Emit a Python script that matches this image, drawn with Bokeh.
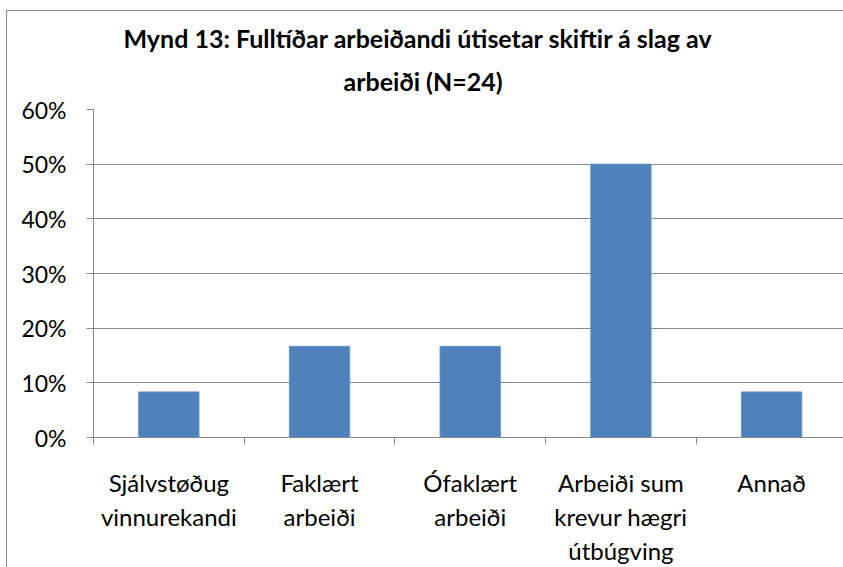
from bokeh.plotting import figure
from bokeh.models import FixedTicker, NumeralTickFormatter, Range1d, Title
from bokeh.embed import file_html
from bokeh.resources import INLINE

# ---- data ----
categories = ["Sjálvstøðug\nvinnurekandi", "Faklært\narbeiði", "Ófaklært\narbeiði",
              "Arbeiði sum\nkrevur hægri\nútbúgving", "Annað"]
values = [0.0833, 0.1667, 0.1667, 0.5, 0.0833]
y_ticks = [0.0, 0.1, 0.2, 0.3, 0.4, 0.5, 0.6]
title_lines = ["Mynd 13: Fulltíðar arbeiðandi útisetar skiftir á slag av", "arbeiði (N=24)"]

FONT = "Lato"
GRAY = "#898989"

centers = [i + 0.5 for i in range(len(categories))]
bounds = [float(i) for i in range(len(categories) + 1)]

chart_border = ("linear-gradient(#8a8a8a,#8a8a8a) 6px 10px / 1px 600px no-repeat, "
                "linear-gradient(#8a8a8a,#8a8a8a) 6px 10px / 900px 1px no-repeat, white")

p = figure(width=843, height=567, output_backend="svg", toolbar_location=None,
           x_range=Range1d(0, 4.977), y_range=Range1d(0, 0.6),
           min_border_left=93, min_border_right=0, min_border_top=109, min_border_bottom=130,
           styles={"background": chart_border})
p.outline_line_color = None
p.background_fill_color = "white"
p.border_fill_color = None

p.vbar(x=centers, top=values, width=0.4, fill_color="#4F81BD", line_color="#6690c6", line_width=1)

# x axis
xa = p.xaxis[0]
xa.ticker = FixedTicker(ticks=centers, minor_ticks=bounds)
xa.major_label_overrides = {c: lab for c, lab in zip(centers, categories)}
xa.major_tick_line_color = None
xa.minor_tick_line_color = GRAY
xa.minor_tick_out = 7
xa.minor_tick_in = 0
xa.axis_line_color = GRAY
xa.major_label_text_font = FONT
xa.major_label_text_font_size = "24px"
xa.major_label_text_color = "black"
xa.major_label_text_line_height = 1.18
xa.major_label_standoff = 23
xa.major_label_orientation = "horizontal"

# y axis
ya = p.yaxis[0]
ya.ticker = FixedTicker(ticks=y_ticks)
ya.formatter = NumeralTickFormatter(format="0%")
ya.minor_tick_line_color = None
ya.major_tick_line_color = GRAY
ya.major_tick_out = 7
ya.major_tick_in = 0
ya.axis_line_color = GRAY
ya.major_label_text_font = FONT
ya.major_label_text_font_size = "23px"
ya.major_label_text_color = "black"
ya.major_label_standoff = 20

p.xgrid.grid_line_color = None
p.ygrid.ticker = FixedTicker(ticks=y_ticks)
p.ygrid.grid_line_color = GRAY
p.ygrid.grid_line_width = 1

# title: two lines, second line nearest the plot
p.add_layout(Title(text=title_lines[1], align="left", offset=250, standoff=27,
                   text_font=FONT, text_font_size="25px", text_font_style="bold",
                   text_color="black"), "above")
p.add_layout(Title(text=title_lines[0], align="left", offset=30, standoff=-5,
                   text_font=FONT, text_font_size="25px", text_font_style="bold",
                   text_color="black"), "above")

open("out.html", "w").write(file_html(p, INLINE))
